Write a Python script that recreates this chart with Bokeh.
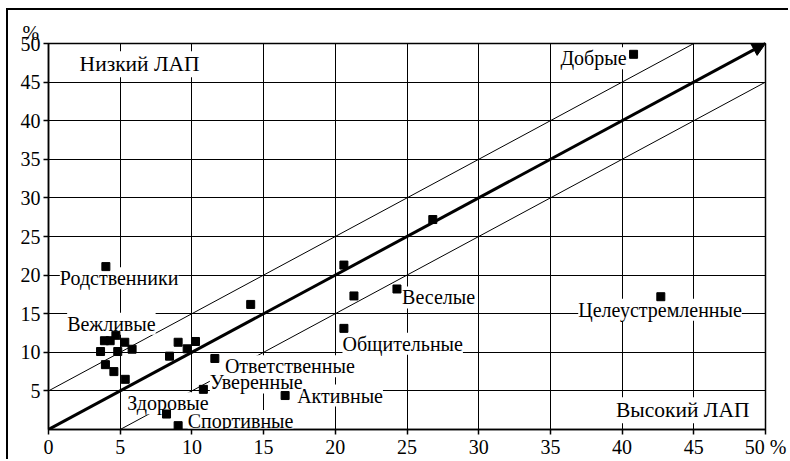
from bokeh.plotting import figure
from bokeh.models import Range1d, FixedTicker, Arrow, NormalHead
from bokeh.core.properties import value
from bokeh.embed import file_html
from bokeh.resources import INLINE

# point data (x %, y %)
pt_x = [3.63, 3.9, 4.3, 4.7, 4.83, 5.32, 5.83, 3.97, 4.56, 5.35,
        8.44, 9.04, 9.67, 10.25, 8.23, 9.04, 11.6, 10.8, 16.5, 14.1,
        20.6, 21.3, 20.6, 24.3, 26.8, 40.8, 42.7, 4.0]
pt_y = [10.1, 11.5, 11.5, 12.2, 10.1, 11.3, 10.4, 8.4, 7.5, 6.5,
        9.5, 11.3, 10.45, 11.4, 2.0, 0.5, 9.2, 5.2, 4.4, 16.2,
        21.3, 17.3, 13.1, 18.2, 27.2, 48.6, 17.2, 21.1]

# point labels (listed from bottom to top)
label_names = ["Спортивные", "Здоровые", "Активные", "Уверенные", "Ответственные",
               "Общительные", "Вежливые", "Целеустремленные", "Веселые", "Родственники", "Добрые"]
label_x = [9.71, 5.49, 17.34, 11.25, 12.3, 20.5, 1.3, 36.94, 24.66, 0.79, 35.7]
label_y = [1.1, 3.4, 4.4, 6.1, 8.2, 11.1, 13.7, 15.5, 17.1, 19.6, 48.1]

# zone labels
zone_names = ["Низкий ЛАП", "Высокий ЛАП"]
zone_x = [2.1, 39.5]
zone_y = [47.3, 2.5]

x_ticks = [0, 5, 10, 15, 20, 25, 30, 35, 40, 45, 50]
y_ticks = [5, 10, 15, 20, 25, 30, 35, 40, 45, 50]
grid_ticks = [0, 5, 10, 15, 20, 25, 30, 35, 40, 45, 50]

# diagonal band lines (y = x + 5 and y = x - 5)
band_x0 = [0, 5]
band_y0 = [5, 0]
band_x1 = [45, 50]
band_y1 = [50, 45]

FONT = "Liberation Serif"

p = figure(width=782, height=451, x_range=Range1d(0, 50), y_range=Range1d(0, 50),
           output_backend="svg", toolbar_location=None,
           min_border_left=40, min_border_top=33, min_border_right=25, min_border_bottom=32)
p.styles = {"margin-left": "6px", "margin-top": "8px",
            "border-left": "2px solid black", "border-top": "2px solid black"}
p.outline_line_color = "black"
p.outline_line_width = 1.5
p.background_fill_color = "white"
p.border_fill_color = "white"

p.title.text = "%"
p.title.align = "left"
p.title.offset = -26
p.title.standoff = 0
p.title.text_font = FONT
p.title.text_font_size = "20px"
p.title.text_font_style = "normal"
p.title.text_color = "black"

p.xaxis.ticker = FixedTicker(ticks=x_ticks)
p.yaxis.ticker = FixedTicker(ticks=y_ticks)
p.xaxis.major_label_overrides = {50: "50 %"}
p.xgrid.ticker = FixedTicker(ticks=grid_ticks)
p.ygrid.ticker = FixedTicker(ticks=grid_ticks)
for g in (p.xgrid, p.ygrid):
    g.grid_line_color = "black"
    g.grid_line_width = 1
    g.grid_line_alpha = 1
for ax in (p.xaxis, p.yaxis):
    ax.axis_line_color = "black"
    ax.axis_line_width = 1.5
    ax.major_tick_line_color = "black"
    ax.major_tick_line_width = 1.5
    ax.major_tick_out = 5
    ax.major_tick_in = 0
    ax.minor_tick_line_color = None
    ax.major_label_text_font = FONT
    ax.major_label_text_font_size = "20px"
    ax.major_label_text_color = "black"
    ax.major_label_text_font_style = "normal"
p.xaxis.major_label_standoff = 1
p.yaxis.major_label_standoff = 3

p.segment(x0=band_x0, y0=band_y0, x1=band_x1, y1=band_y1, line_color="black", line_width=1)

p.text(x=zone_x, y=zone_y, text=zone_names, text_font=value(FONT), text_font_size="21.5px",
       text_align="left", text_baseline="middle", text_color="black",
       background_fill_color="white", padding=1)

p.text(x=label_x, y=label_y, text=label_names, text_font=value(FONT), text_font_size="20px",
       text_align="left", text_baseline="middle", text_color="black",
       background_fill_color="white", padding=0)

p.scatter(pt_x, pt_y, marker="square", size=8, color="black")

p.add_layout(Arrow(end=NormalHead(size=13, fill_color="black", line_color="black", line_width=1),
                   x_start=0, y_start=0, x_end=50, y_end=50, line_width=3, line_color="black"))

open("out.html", "w").write(file_html(p, INLINE))
